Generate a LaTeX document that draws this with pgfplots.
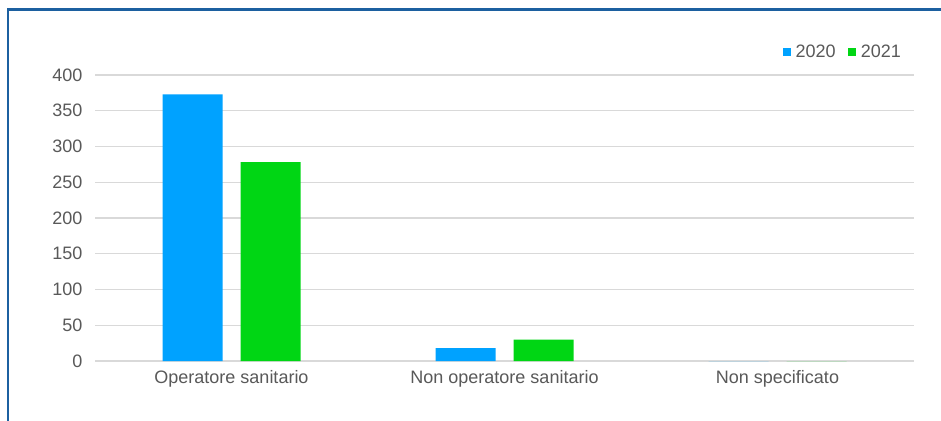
\documentclass[border=0pt]{standalone}
\usepackage{pgfplots}
\pgfplotsset{compat=1.18}
\usepackage{fontspec}
\setmainfont{Liberation Sans}
\definecolor{c2020}{RGB}{0,162,255}
\definecolor{c2021}{RGB}{0,214,20}
\definecolor{frameblue}{RGB}{28,96,160}
\definecolor{txt}{RGB}{89,89,89}
\definecolor{gridc}{RGB}{217,217,217}
\begin{document}
\begin{tikzpicture}[x=1pt,y=1pt]
\useasboundingbox (0,0) rectangle (941,420);
\fill[white] (0,0) rectangle (941,420);
\draw[frameblue, line width=2.5pt] (8,-20) -- (8,410.5) -- (960,410.5);
\begin{axis}[
  at={(95pt,59pt)}, anchor=south west,
  width=819pt, height=286pt, scale only axis,
  ybar,
  xmin=-0.5, xmax=2.5, ymin=0, ymax=400,
  ytick={0,50,...,400},
  xtick={0,1,2},
  xticklabels={Operatore sanitario, Non operatore sanitario, Non specificato},
  axis line style={draw=none},
  major tick length=0pt,
  ymajorgrids,
  grid style={gridc, line width=1.3pt},
  tick label style={font=\fontsize{18}{21}\selectfont, text=txt},
  /pgf/number format/assume math mode=true,
  yticklabel style={xshift=-9pt},
  xticklabel style={yshift=-6pt},
  bar width=60pt,
  legend columns=2,
  legend style={at={(1,1)}, anchor=south east, xshift=-8pt, yshift=12pt, draw=none, fill=none,
    font=\fontsize{18}{21}\selectfont, text=txt,
    /tikz/every odd column/.append style={column sep=3pt},
    /tikz/every even column/.append style={column sep=10pt}},
  legend image code/.code={\fill[#1] (0pt,-4pt) rectangle (8pt,4pt);},
]
\addplot[fill=c2020, draw=none, bar shift=-39pt] coordinates {(0,373) (1,18) (2,0)};
\addplot[fill=c2021, draw=none, bar shift=39pt] coordinates {(0,278) (1,30) (2,0)};
\legend{2020,2021}
\end{axis}
\end{tikzpicture}
\end{document}
